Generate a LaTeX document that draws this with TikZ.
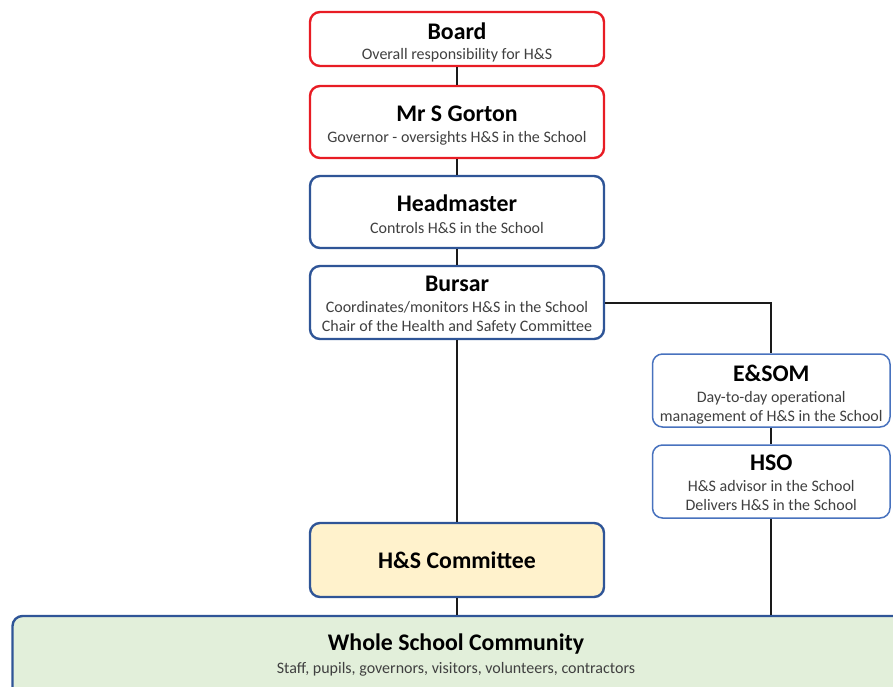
\documentclass[tikz,border=0pt]{standalone}
\usepackage{fontspec}
\setmainfont{Carlito}
\definecolor{redb}{RGB}{232,28,36}
\definecolor{blueb}{RGB}{47,85,151}
\definecolor{lblue}{RGB}{72,114,190}
\definecolor{yelf}{RGB}{255,242,204}
\definecolor{grnf}{RGB}{226,239,218}
\definecolor{subc}{RGB}{64,64,64}
\definecolor{linec}{RGB}{26,26,26}
\tikzset{
  box/.style={rectangle, rounded corners=10pt, line width=2.4pt, fill=white, inner sep=0pt},
  redbox/.style={box, draw=redb},
  bluebox/.style={box, draw=blueb},
  litebox/.style={box, draw=lblue, line width=1.5pt},
  ttl/.style={anchor=base, inner sep=0pt, font=\fontsize{23.8}{27}\selectfont\bfseries, text=black},
  sub/.style={anchor=base, inner sep=0pt, font=\fontsize{16}{18}\selectfont, text=subc},
  conn/.style={draw=linec, line width=2pt}
}
\begin{document}
\begin{tikzpicture}[x=1pt,y=-1pt]
\useasboundingbox (0,0) rectangle (893,687);
\clip (0,0) rectangle (893,687);
% boxes
\node[redbox, minimum width=294pt, minimum height=54pt] (board) at (457,39) {};
\node[redbox, minimum width=294pt, minimum height=72pt] (gorton) at (457,122) {};
\node[bluebox, minimum width=294pt, minimum height=72pt] (head) at (457,212) {};
\node[bluebox, minimum width=294pt, minimum height=73pt] (bursar) at (457,302.5) {};
\node[litebox, minimum width=237.5pt, minimum height=73pt] (esom) at (771.25,390.5) {};
\node[litebox, minimum width=237.5pt, minimum height=73pt] (hso) at (771.25,481.5) {};
\node[bluebox, fill=yelf, minimum width=294pt, minimum height=74pt] (comm) at (457,560) {};
\node[bluebox, fill=grnf, minimum width=893pt, minimum height=82pt] (whole) at (459,657) {};
% connectors
\draw[conn] (board.south) -- (gorton.north);
\draw[conn] (gorton.south) -- (head.north);
\draw[conn] (head.south) -- (bursar.north);
\draw[conn] (bursar.south) -- (comm.north);
\draw[conn] (comm.south) -- (comm.south |- whole.north);
\draw[conn] (bursar.east) -| (esom.north);
\draw[conn] (esom.south) -- (hso.north);
\draw[conn] (hso.south) -- (hso.south |- whole.north);
% texts
\node[ttl] (boardT) at (457,40) {Board};
\node[sub] (boardS) at (457,60) {Overall responsibility for H\&S};
\node[ttl] (gortonT) at (457,122) {Mr S Gorton};
\node[sub] (gortonS) at (457,143) {Governor - oversights H\&S in the School};
\node[ttl] (headT) at (457,211) {Headmaster};
\node[sub] (headS) at (457,233) {Controls H\&S in the School};
\node[ttl] (bursarT) at (457,291) {Bursar};
\node[sub] (bursarS1) at (457,312) {Coordinates/monitors H\&S in the School};
\node[sub] (bursarS2) at (457,331) {Chair of the Health and Safety Committee};
\node[ttl] (esomT) at (771.25,381) {E\&SOM};
\node[sub] (esomS1) at (771.25,402) {Day-to-day operational};
\node[sub] (esomS2) at (771.25,421) {management of H\&S in the School};
\node[ttl] (hsoT) at (771.25,470) {HSO};
\node[sub] (hsoS1) at (771.25,491.5) {H\&S advisor in the School};
\node[sub] (hsoS2) at (771.25,510) {Delivers H\&S in the School};
\node[ttl] (commT) at (457,568) {H\&S Committee};
\node[ttl] (wholeT) at (456,650) {Whole School Community};
\node[sub] (wholeS) at (456,673) {Staff, pupils, governors, visitors, volunteers, contractors};
\end{tikzpicture}
\end{document}
